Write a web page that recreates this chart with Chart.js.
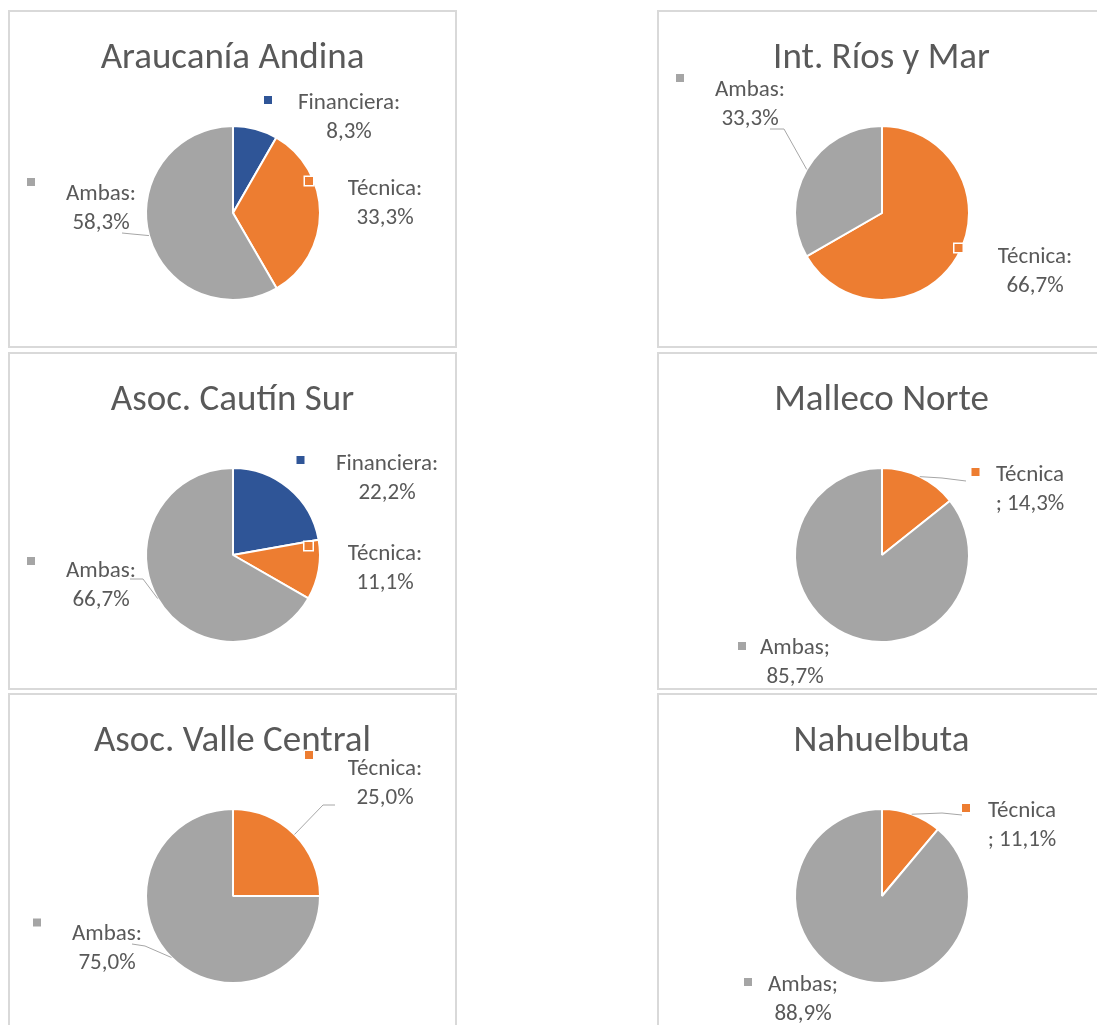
<!DOCTYPE html>
<html>
<head>
<meta charset="utf-8">
<script src="https://cdn.jsdelivr.net/npm/chart.js@4.4.1/dist/chart.umd.min.js"></script>
<style>
  html, body { margin: 0; padding: 0; background: #fff; overflow: hidden; width: 1097px; height: 1025px; }
  .panel { position: absolute; width: 449px; height: 338px; }
  .panel canvas { position: absolute; left: 0; top: 0; }
  .frame { position: absolute; left: 0; top: 0; width: 449px; height: 338px; box-sizing: border-box; border: 2px solid #d9d9d9; pointer-events: none; }
</style>
</head>
<body>
<script>
// ---------- DATA ----------
const titles = ['Araucanía Andina', 'Int. Ríos y Mar', 'Asoc. Cautín Sur', 'Malleco Norte', 'Asoc. Valle Central', 'Nahuelbuta'];

const araucaniaCats = ['Financiera', 'Técnica', 'Ambas'];
const araucaniaVals = [8.3, 33.3, 58.3];

const riosCats = ['Técnica', 'Ambas'];
const riosVals = [66.7, 33.3];

const cautinCats = ['Financiera', 'Técnica', 'Ambas'];
const cautinVals = [22.2, 11.1, 66.7];

const mallecoCats = ['Técnica', 'Ambas'];
const mallecoVals = [14.3, 85.7];

const valleCats = ['Técnica', 'Ambas'];
const valleVals = [25.0, 75.0];

const nahuelCats = ['Técnica', 'Ambas'];
const nahuelVals = [11.1, 88.9];

const separators = [':', ':', ':', ';', ':', ';'];

// ---------- STYLE / LAYOUT ----------
const catColors = { 'Financiera': '#2F5597', 'Técnica': '#ED7D31', 'Ambas': '#A5A5A5' };
const textColor = '#595959';
const fontFamily = 'Calibri, Carlito, "Open Sans", sans-serif';

const panelPos = [[8, 10], [657, 10], [8, 352], [657, 352], [8, 693], [657, 693]];

// label layout relative to pie centre (t = first text line baseline centre, k = key centre)
const labelLayouts = [
  [ { t: [116, -104], k: [35, -113] },
    { t: [152, -18], k: [76, -32] },
    { t: [-132, -13], k: [-202, -31], leader: [[-111, 20], [-101, 21]] } ],
  [ { t: [153, 50], k: [76.5, 35] },
    { t: [-132, -117], k: [-202, -135], leader: [[-112, -84], [-98, -84]] } ],
  [ { t: [154, -85], k: [67.5, -95] },
    { t: [152, 5], k: [75.5, -9] },
    { t: [-132, 22], k: [-202, 6], leader: [[-103, 24], [-90, 24]] } ],
  [ { t: [148, -74], k: [93.5, -83], leader: [[84, -74], [60, -77]], wrapBefore: true },
    { t: [-87, 99], k: [-140, 91] } ],
  [ { t: [152, -121], k: [76, -141], leader: [[102, -91], [90, -91]] },
    { t: [-126, 44], k: [-196, 26.5], leader: [[-101, 48], [-88, 50]] } ],
  [ { t: [140, -79], k: [84, -88], leader: [[80, -81], [60, -83]], wrapBefore: true },
    { t: [-79, 95], k: [-134, 86] } ]
];

const chartsData = [
  [araucaniaCats, araucaniaVals],
  [riosCats, riosVals],
  [cautinCats, cautinVals],
  [mallecoCats, mallecoVals],
  [valleCats, valleVals],
  [nahuelCats, nahuelVals]
];

function fmt(v) { return v.toFixed(1).replace('.', ',') + '%'; }

const labelPlugin = {
  id: 'excelLabels',
  afterDatasetsDraw(chart, args, opts) {
    const ctx = chart.ctx;
    const meta = chart.getDatasetMeta(0);
    const cats = chart.data.labels;
    const vals = chart.data.datasets[0].data;
    ctx.save();
    // title
    ctx.fillStyle = textColor;
    ctx.font = '37px ' + fontFamily;
    ctx.textAlign = 'center';
    ctx.textBaseline = 'alphabetic';
    ctx.fillText(opts.title, chart.width / 2, 58);

    meta.data.forEach((arc, i) => {
      const p = arc.getProps(['x', 'y', 'startAngle', 'endAngle', 'outerRadius'], true);
      const L = opts.layout[i];
      const cx = p.x, cy = p.y;
      // leader line
      if (L.leader) {
        const mid = (p.startAngle + p.endAngle) / 2;
        const ex = cx + Math.cos(mid) * p.outerRadius;
        const ey = cy + Math.sin(mid) * p.outerRadius;
        ctx.beginPath();
        ctx.strokeStyle = '#a6a6a6';
        ctx.lineWidth = 1;
        ctx.moveTo(cx + L.leader[0][0], cy + L.leader[0][1]);
        for (let j = 1; j < L.leader.length; j++) ctx.lineTo(cx + L.leader[j][0], cy + L.leader[j][1]);
        ctx.lineTo(ex, ey);
        ctx.stroke();
      }
      // key
      const kx = cx + L.k[0], ky = cy + L.k[1];
      ctx.fillStyle = catColors[cats[i]];
      ctx.strokeStyle = '#ffffff';
      ctx.lineWidth = 2;
      ctx.strokeRect(kx - 4.5, ky - 4.5, 9, 9);
      ctx.fillRect(kx - 4, ky - 4, 8, 8);
      // text
      const sep = opts.sep;
      const lines = L.wrapBefore ? [cats[i], sep + ' ' + fmt(vals[i])] : [cats[i] + sep, fmt(vals[i])];
      ctx.fillStyle = textColor;
      ctx.font = '23px ' + fontFamily;
      ctx.textAlign = 'center';
      ctx.textBaseline = 'alphabetic';
      lines.forEach((ln, j) => ctx.fillText(ln, cx + L.t[0], cy + L.t[1] + j * 28.5));
    });
    ctx.restore();
  }
};

chartsData.forEach(([cats, vals], idx) => {
  const panel = document.createElement('div');
  panel.className = 'panel';
  panel.style.left = panelPos[idx][0] + 'px';
  panel.style.top = panelPos[idx][1] + 'px';
  const canvas = document.createElement('canvas');
  canvas.width = 449; canvas.height = 338;
  canvas.style.width = '449px'; canvas.style.height = '338px';
  panel.appendChild(canvas);
  const frame = document.createElement('div');
  frame.className = 'frame';
  panel.appendChild(frame);
  document.body.appendChild(panel);

  new Chart(canvas.getContext('2d'), {
    type: 'pie',
    data: {
      labels: cats,
      datasets: [{
        data: vals,
        backgroundColor: cats.map(c => catColors[c]),
        borderColor: '#ffffff',
        borderWidth: 2
      }]
    },
    options: {
      responsive: false,
      animation: false,
      layout: { padding: { left: 137, right: 136, top: 115, bottom: 47 } },
      plugins: {
        legend: { display: false },
        tooltip: { enabled: false },
        title: { display: false },
        excelLabels: { title: titles[idx], layout: labelLayouts[idx], sep: separators[idx] }
      }
    },
    plugins: [labelPlugin]
  });
});
</script>
</body>
</html>
